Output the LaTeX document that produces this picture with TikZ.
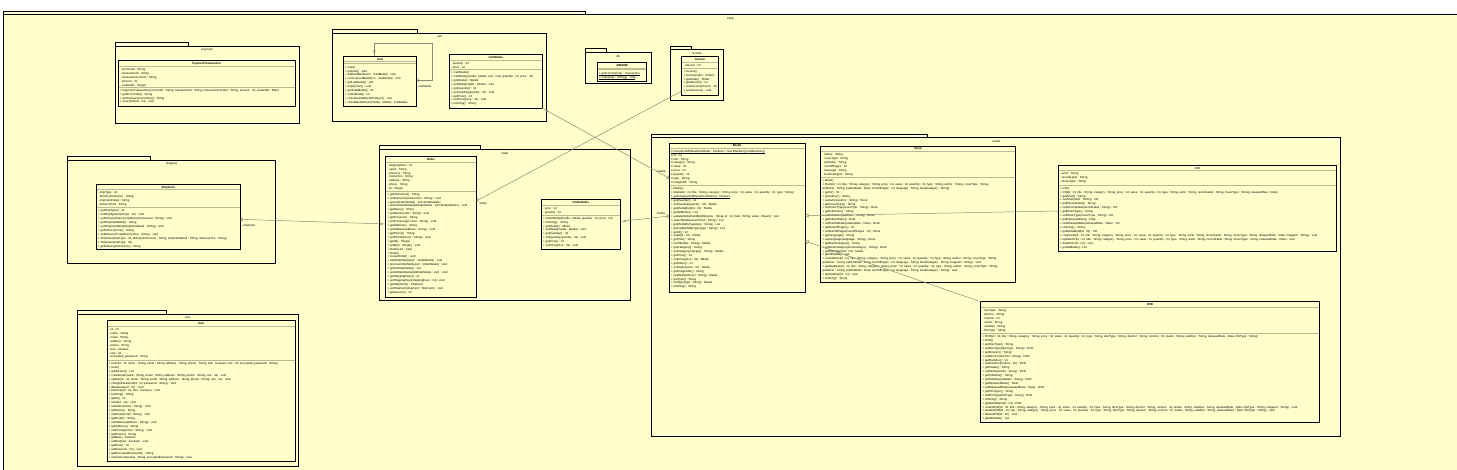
\documentclass[tikz,border=0pt]{standalone}
\usepackage{fontspec}
\setmainfont{Liberation Sans}
\usetikzlibrary{arrows.meta,shapes.misc}
\definecolor{umlyellow}{RGB}{255,255,204}
\definecolor{sepgray}{RGB}{185,185,150}
\definecolor{conngray}{RGB}{140,140,118}
\newcommand\tinyfont{\fontsize{2.9}{3.92}\selectfont}
\newcommand\ulx[1]{\vtop{\hbox{#1}\kern0.12pt\hrule height0.2pt}}
\tikzset{
  pkgline/.style={draw=black, line width=0.75pt, fill=umlyellow},
  pkgbody/.style={draw=black, line width=0.75pt, fill=umlyellow, inner sep=0pt, outer sep=0pt},
  pkglabel/.style={font=\tinyfont, inner sep=0pt},
  clsbox/.style={draw=black, line width=1pt, fill=umlyellow, inner sep=0pt, outer sep=0pt},
  clssep/.style={draw=sepgray, line width=0.6pt},
  clstitle/.style={font=\tinyfont\bfseries, inner sep=0pt},
  clstext/.style={font=\tinyfont, align=left, inner sep=0pt, anchor=north west},
  lbl/.style={font=\tinyfont, inner sep=0pt},
  assoc/.style={draw=conngray, line width=0.5pt, -{Straight Barb[length=2.2pt,width=3.6pt]}},
  gen/.style={draw=conngray, line width=0.5pt, -{Triangle[open,length=3.6pt,width=4pt,fill=umlyellow]}},
  xmk/.style={cross out, draw=conngray, line width=0.45pt, minimum size=1.8pt, inner sep=0pt}
}
% name, x1, y1, x2, y2, title, sep1, sep2
\newcommand\umlbox[8]{%
  \node[clsbox, minimum width={(#4)-(#2)}, minimum height={(#5)-(#3)}] (#1) at ({((#2)+(#4))/2},{((#3)+(#5))/2}) {};
  \node[clstitle] (#1-title) at ({((#2)+(#4))/2},{((#3)+(#7))/2+0.3}) {#6};
  \draw[clssep] ({(#2)+0.5},{#7}) -- ({(#4)-0.5},{#7});
  \draw[clssep] ({(#2)+0.5},{#8}) -- ({(#4)-0.5},{#8});
}
% name, x1, tab top, tab right, body top, x2, y2, label
\newcommand\umlpkg[8]{%
  \draw[pkgline] (#2,#3) rectangle (#4,#5);
  \node[pkgbody, minimum width={(#6)-(#2)}, minimum height={(#7)-(#5)}] (#1) at ({((#2)+(#6))/2},{((#5)+(#7))/2}) {};
  \node[pkglabel] (#1-label) at ({((#2)+(#6))/2},{(#5)+3.8}) {#8};
}
\begin{document}
\begin{tikzpicture}[x=1pt,y=-1pt]
\useasboundingbox (0,0) rectangle (1457,469);
\clip (0,0) rectangle (1457,469);
\fill[white] (0,0) rectangle (1457,469);

% outer package
\draw[pkgline] (3.5,11) rectangle (585.7,14.7);
\node[pkgbody, minimum width=1470, minimum height=470] (entity) at (738.5,249.7) {};
\node[pkglabel] (entity-label) at (730.6,18.6) {entity};

% packages
\umlpkg{payment}{115.3}{42.7}{188.7}{46}{299.3}{123}{payment}
\umlpkg{cartpkg}{332.7}{29.7}{417.3}{33}{546.7}{121.3}{cart}
\umlpkg{db}{585.7}{48.5}{606}{52.3}{651}{83.3}{db}
\umlpkg{records}{670.3}{46.7}{691}{49.6}{723.3}{100.5}{records}
\umlpkg{shipping}{67.3}{156.3}{150.3}{160.3}{275.7}{263.3}{shipping}
\umlpkg{userpkg}{77.3}{310}{166.3}{314}{298.3}{466}{user}
\umlpkg{orderpkg}{379.3}{145.7}{480.3}{149.3}{630.7}{300}{order}
\umlpkg{mediapkg}{651.7}{134}{927.3}{137.3}{1340.7}{436.7}{media}

% PaymentTransaction
\umlbox{paytx}{118.3}{60.3}{295}{106.3}{PaymentTransaction}{66.7}{87}
\node[clstext] (paytx-a) at (120,68.6) {- errorCode : String\\- transactionId : String\\- transactionContent : String\\- amount : int\\- createdAt : Integer};
\node[clstext] (paytx-m) at (120,88.9) {+ PaymentTransaction(errorCode : String, transactionId : String, transactionContent : String, amount : int, createdAt : Date)\\+ getErrorCode() : String\\+ getTransactionContent() : String\\+ save(orderId : int) : void};

% Cart
\umlbox{cart}{343.3}{56.3}{416.7}{106.7}{Cart}{61.7}{63}
\node[clstext] (cart-m) at (345,65.8) {+ Cart()\\+ getCart() : Cart\\+ addCartMedia(cm : CartMedia) : void\\+ removeCartMedia(cm : CartMedia) : void\\+ getListMedia() : List\\+ emptyCart() : void\\+ getTotalMedia() : int\\+ calSubtotal() : int\\+ checkAvailabilityOfProduct() : void\\+ checkMediaInCart(media : Media) : CartMedia};

% CartMedia
\umlbox{cartmedia}{449.3}{54.7}{542}{108}{CartMedia}{60.3}{69.3}
\node[clstext] (cartmedia-a) at (451,62.2) {- quantity : int\\- price : int};
\node[clstext] (cartmedia-m) at (451,71.2) {+ CartMedia()\\+ CartMedia(media : Media, cart : Cart, quantity : int, price : int)\\+ getMedia() : Media\\+ setMedia(media : Media) : void\\+ getQuantity() : int\\+ setQuantity(quantity : int) : void\\+ getPrice() : int\\+ setPrice(price : int) : void\\+ toString() : String};

% AIMSDB
\umlbox{aimsdb}{597.3}{62.3}{646.7}{81}{AIMSDB}{68}{69.3}
\node[clstext] (aimsdb-m) at (599,72.4) {\ulx{+ getConnection() : Connection}\\\ulx{+ main(args : String[]) : void}};

% Invoice
\umlbox{invoice}{681.7}{56.7}{718.3}{95.3}{Invoice}{62}{68}
\node[clstext] (invoice-a) at (683.3,63.9) {- amount : int};
\begin{scope}
\clip (682.3,68.5) rectangle (717.7,94.8);
\node[clstext] (invoice-m) at (683.3,69.9) {+ Invoice()\\+ Invoice(order : Order)\\+ getOrder() : Order\\+ getAmount() : int\\+ setAmount(amount : int) : void\\+ saveInvoice() : void};
\end{scope}

% Shipment
\umlbox{shipment}{96.3}{184.3}{240.3}{249}{Shipment}{189.7}{207.7}
\node[clstext] (shipment-a) at (98,191.6) {- shipType : int\\- deliveryInstruction : String\\- shipmentDetail : String\\- deliveryTime : String};
\node[clstext] (shipment-m) at (98,209.6) {+ getShipType() : int\\+ setShipType(shipType : int) : void\\+ setDeliveryInstruction(deliveryInstruction : String) : void\\+ getShipmentDetail() : String\\+ setShipmentDetail(shipmentDetail : String) : void\\+ getDeliveryTime() : String\\+ setDeliveryTime(deliveryTime : String) : void\\+ Shipment(shipType : int, deliveryInstruction : String, shipmentDetail : String, deliveryTime : String)\\+ Shipment(shipType : int)\\+ getDeliveryInstruction() : String};

% User
\umlbox{user}{107}{320}{295.3}{461}{User}{326.3}{360.3}
\node[clstext] (user-a) at (108.7,328.2) {- id : int\\- name : String\\- email : String\\- address : String\\- phone : String\\- ban : boolean\\- role : int\\- encrypted\_password : String};
\node[clstext] (user-m) at (108.7,362.2) {+ User(id : int, name : String, email : String, address : String, phone : String, ban : boolean, role : int, encrypted\_password : String)\\+ User()\\+ getAllUser() : List\\+ createUser(name : String, email : String, address : String, phone : String, role : int) : void\\+ update(id : int, name : String, email : String, address : String, phone : String, role : int) : void\\+ changePassword(id : int, password : String) : void\\+ deleteUser(id : int) : void\\+ banUser(id : int, ban : boolean) : void\\+ toString() : String\\+ getId() : int\\+ setId(id : int) : void\\+ setName(name : String) : void\\+ getName() : String\\+ setEmail(email : String) : void\\+ getEmail() : String\\+ setAddress(address : String) : void\\+ getAddress() : String\\+ setPhone(phone : String) : void\\+ getPhone() : String\\+ getBan() : boolean\\+ setBan(ban : boolean) : void\\+ getRole() : int\\+ setRole(role : int) : void\\+ getEncryptedPassword() : String\\+ authenticate(email : String, encryptedPassword : String) : User};

% Order
\umlbox{order}{385.7}{156}{476.3}{297.3}{Order}{162}{191}
\node[clstext] (order-a) at (387.3,163.9) {- shippingFees : int\\- name : String\\- province : String\\- instruction : String\\- address : String\\- phone : String\\- id : Integer};
\node[clstext] (order-m) at (387.3,192.9) {+ getInstruction() : String\\+ setInstruction(instruction : String) : void\\+ getLstOrderMedia() : List<OrderMedia>\\+ setLstOrderMedia(lstOrderMedia : List<OrderMedia>) : void\\+ getName() : String\\+ setName(name : String) : void\\+ getProvince() : String\\+ setProvince(province : String) : void\\+ getAddress() : String\\+ setAddress(address : String) : void\\+ getPhone() : String\\+ setPhone(phone : String) : void\\+ getId() : Integer\\+ setId(id : Integer) : void\\+ Order(cart : Cart)\\+ Order()\\+ createOrder() : void\\+ addOrderMedia(om : OrderMedia) : void\\+ removeOrderMedia(om : OrderMedia) : void\\+ getlstOrderMedia() : List\\+ setlstOrderMedia(lstOrderMedia : List) : void\\+ getShippingFees() : int\\+ setShippingFees(shippingFees : int) : void\\+ getShipment() : Shipment\\+ setShipment(shipment : Shipment) : void\\+ getAmount() : int};

% OrderMedia
\umlbox{ordermedia}{541.3}{199.3}{620.3}{249}{OrderMedia}{205.3}{215}
\node[clstext] (ordermedia-a) at (543,207.2) {- price : int\\- quantity : int};
\node[clstext] (ordermedia-m) at (543,216.9) {+ OrderMedia(media : Media, quantity : int, price : int)\\+ toString() : String\\+ getMedia() : Media\\+ setMedia(media : Media) : void\\+ getQuantity() : int\\+ setQuantity(quantity : int) : void\\+ getPrice() : int\\+ setPrice(price : int) : void};

% Media
\umlbox{media}{669.3}{143.3}{805}{292.7}{Media}{148}{185.7}
\node[clstext] (media-a) at (671,149.9) {\ulx{\# isSupportedPlaceRushOrder : boolean = new Random().nextBoolean()}\\\# id : int\\\# title : String\\\# category : String\\\# value : int\\\# price : int\\\# quantity : int\\\# type : String\\\# imageURL : String};
\node[clstext] (media-m) at (671,187.6) {+ Media()\\+ Media(id : int, title : String, category : String, price : int, value : int, quantity : int, type : String)\\\ulx{+ getIsSupportedPlaceRushOrder() : boolean}\\+ getQuantity() : int\\+ setQuantity(quantity : int) : Media\\+ getMediaById(id : int) : Media\\+ getAllMedia() : List\\+ updateMediaFieldById(tbname : String, id : int, field : String, value : Object) : void\\+ searchMedia(searchText : String) : List\\+ getMediaByType(type : String) : List\\+ getListMediaByType(type : String) : List\\+ getId() : int\\+ setId(id : int) : Media\\+ getTitle() : String\\+ setTitle(title : String) : Media\\+ getCategory() : String\\+ setCategory(category : String) : Media\\+ getPrice() : int\\+ setPrice(price : int) : Media\\+ getValue() : int\\+ setValue(value : int) : Media\\+ getImageURL() : String\\+ setMediaURL(url : String) : Media\\+ getType() : String\\+ setType(type : String) : Media\\+ toString() : String};

% Book
\umlbox{book}{820.7}{146}{1015.7}{282.3}{Book}{151.3}{177.3}
\node[clstext] (book-a) at (822.4,153.2) {- author : String\\- coverType : String\\- publisher : String\\- numOfPages : int\\- language : String\\- bookCategory : String};
\node[clstext] (book-m) at (822.4,179.2) {+ Book()\\+ Book(id : int, title : String, category : String, price : int, value : int, quantity : int, type : String, author : String, coverType : String,\\publisher : String, publishDate : Date, numOfPages : int, language : String, bookCategory : String)\\+ getId() : int\\+ getAuthor() : String\\+ setAuthor(author : String) : Book\\+ getCoverType() : String\\+ setCoverType(coverType : String) : Book\\+ getPublisher() : String\\+ setPublisher(publisher : String) : Book\\+ getPublishDate() : Date\\+ setPublishDate(publishDate : Date) : Book\\+ getNumOfPages() : int\\+ setNumOfPages(numOfPages : int) : Book\\+ getLanguage() : String\\+ setLanguage(language : String) : Book\\+ getBookCategory() : String\\+ setBookCategory(bookCategory : String) : Book\\+ getMediaById(id : int) : Media\\+ getAllMedia() : List\\+ createBook(id : int, title : String, category : String, price : int, value : int, quantity : int, type : String, author : String, coverType : String,\\publisher : String, publishDate : Date, numOfPages : int, language : String, bookCategory : String, imageUrl : String) : void\\+ updateBook(id : int, title : String, category : String, price : int, value : int, quantity : int, type : String, author : String, coverType : String,\\publisher : String, publishDate : Date, numOfPages : int, language : String, bookCategory : String) : void\\+ deleteBook(id : int) : void\\+ toString() : String};

% CD
\umlbox{cd}{1058.3}{165.7}{1336.7}{251.7}{CD}{170.7}{185}
\node[clstext] (cd-a) at (1060,172.6) {- artist : String\\- recordLabel : String\\- musicType : String};
\node[clstext] (cd-m) at (1060,186.9) {+ CD()\\+ CD(id : int, title : String, category : String, price : int, value : int, quantity : int, type : String, artist : String, recordLabel : String, musicType : String, releasedDate : Date)\\+ getArtist() : String\\+ setArtist(artist : String) : CD\\+ getRecordLabel() : String\\+ setRecordLabel(recordLabel : String) : CD\\+ getMusicType() : String\\+ setMusicType(musicType : String) : CD\\+ getReleasedDate() : Date\\+ setReleasedDate(releasedDate : Date) : CD\\+ toString() : String\\+ getMediaById(id : int) : CD\\+ createCD(id : int, title : String, category : String, price : int, value : int, quantity : int, type : String, artist : String, recordLabel : String, musicType : String, releasedDate : Date, imageUrl : String) : void\\+ updateCD(id : int, title : String, category : String, price : int, value : int, quantity : int, type : String, artist : String, recordLabel : String, musicType : String, releasedDate : Date) : void\\+ deleteCD(id : int) : void\\+ getAllMedia() : List};

% DVD
\umlbox{dvd}{980.7}{301.7}{1319.3}{422.3}{DVD}{307.3}{333.3}
\node[clstext] (dvd-a) at (982.4,309.2) {- discType : String\\- director : String\\- runtime : int\\- studio : String\\- subtitles : String\\- filmType : String};
\node[clstext] (dvd-m) at (982.4,335.2) {+ DVD(id : int, title : String, category : String, price : int, value : int, quantity : int, type : String, discType : String, director : String, runtime : int, studio : String, subtitles : String, releasedDate : Date, filmType : String)\\+ DVD()\\+ getDiscType() : String\\+ setDiscType(discType : String) : DVD\\+ getDirector() : String\\+ setDirector(director : String) : DVD\\+ getRuntime() : int\\+ setRuntime(runtime : int) : DVD\\+ getStudio() : String\\+ setStudio(studio : String) : DVD\\+ getSubtitles() : String\\+ setSubtitles(subtitles : String) : DVD\\+ getReleasedDate() : Date\\+ setReleasedDate(releasedDate : Date) : DVD\\+ getFilmType() : String\\+ setFilmType(filmType : String) : DVD\\+ toString() : String\\+ getMediaById(id : int) : DVD\\+ createDVD(id : int, title : String, category : String, price : int, value : int, quantity : int, type : String, discType : String, director : String, runtime : int, studio : String, subtitles : String, releasedDate : Date, filmType : String, imageUrl : String) : void\\+ updateDVD(id : int, title : String, category : String, price : int, value : int, quantity : int, type : String, discType : String, director : String, runtime : int, studio : String, subtitles : String, releasedDate : Date, filmType : String) : void\\+ deleteDVD(id : int) : void\\+ getAllMedia() : List};

% connectors
\draw[assoc] (cart.north -| 374.3,0) -- (374.3,43) -- (432.7,43) -- (432.7,80.3) -- (cart.east |- 0,80.3);
\node[xmk] (x1) at (374.3,51.5) {};
\node[lbl] (l1) at (424.3,86.7) {-cartMedia};

\draw[assoc] (cartmedia.south east) -- (media.west |- 0,178.3);
\node[xmk] (x2) at (547.2,110.9) {};
\node[lbl] (l2) at (661,171.6) {-media};

\draw[assoc] (ordermedia.east |- 0,221.5) -- (media.west |- 0,216);
\node[xmk] (x3) at (624.8,221.1) {};
\node[lbl] (l3) at (660.5,213.2) {-media};

\draw[assoc] (invoice.west |- 0,91) -- (order.east |- 0,201);
\node[lbl, anchor=west] (l4) at (478.8,203.6) {-order};

\draw[assoc] (order.west |- 0,224) -- (shipment.east |- 0,219.3);
\node[xmk] (x4) at (381.3,223.9) {};
\node[lbl, anchor=west] (l5) at (242.2,225.4) {-shipment};

\draw[gen] (cd.west |- 0,211) -- (media.east |- 0,215.7);
\draw[gen] (dvd.north west) -- (media.east |- 0,241);
\end{tikzpicture}
\end{document}
